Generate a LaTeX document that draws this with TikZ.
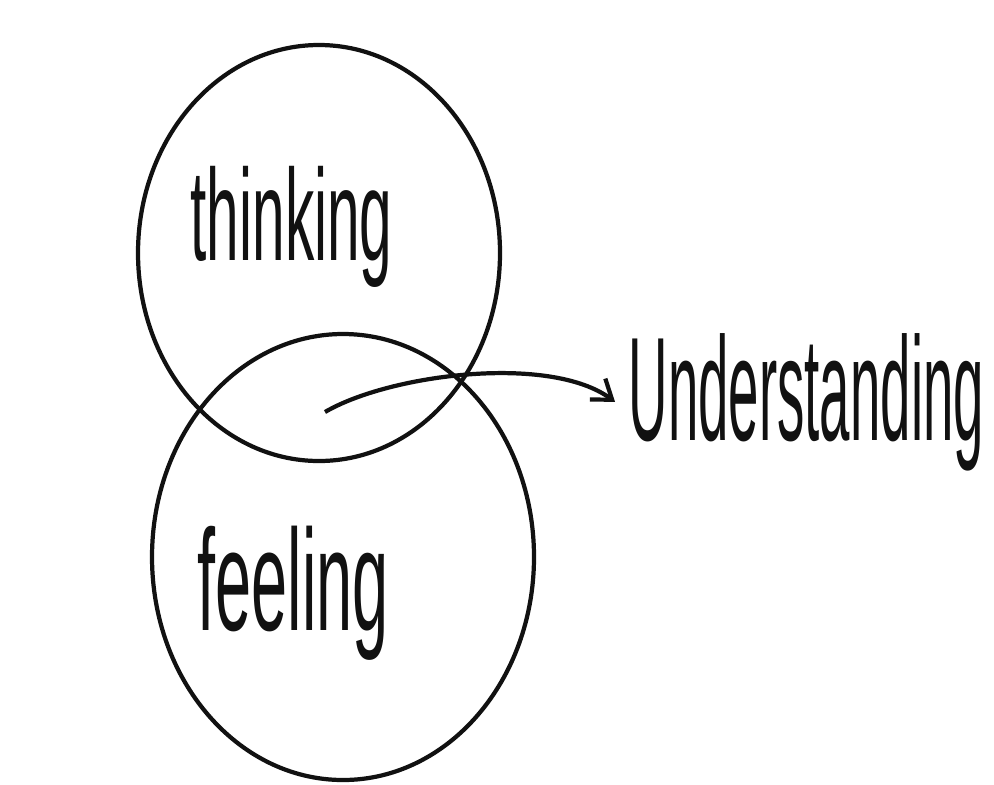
\documentclass[tikz,border=0pt]{standalone}
\usepackage{fontspec}
\usepackage{tikz}
\usetikzlibrary{shapes,shapes.geometric,arrows.meta,positioning,calc}
\newfontfamily\handfont[FakeStretch=0.45]{Liberation Sans}
\newfontfamily\handnarrow[FakeStretch=0.37]{Liberation Sans}
\definecolor{inkblack}{HTML}{111111}
\tikzstyle{bubble} = [ellipse, draw=inkblack, line width=1.2pt, inner sep=0pt]
\tikzstyle{word} = [inner sep=0pt, anchor=base west, text=inkblack]
\tikzstyle{arrow} = [-{Straight Barb[length=1.8mm, width=2.6mm]}, line width=1.2pt, inkblack]

\begin{document}
\begin{tikzpicture}
\useasboundingbox (0,0) rectangle (9.94,7.84);
\node[bubble, minimum width=3.62cm, minimum height=4.16cm] (thinkcirc) at (3.19,5.31) {};
\node[bubble, minimum width=3.82cm, minimum height=4.46cm] (feelcirc) at (3.43,2.27) {};
\node[word, font=\handfont\fontsize{37}{37}\selectfont] (thinking) at (1.90,5.24) {thinking};
\node[word, font=\handfont\fontsize{41}{41}\selectfont] (feeling) at (1.97,1.54) {feeling};
\node[word, font=\handnarrow\fontsize{42}{42}\selectfont] (understanding) at (6.28,3.44) {Understanding};

\coordinate (overlap) at (3.25,3.72);
\draw[arrow] (overlap) .. controls (3.9,4.1) and (5.5,4.3) .. ($(understanding.west)+(-0.13,0)$);
\end{tikzpicture}
\end{document}
